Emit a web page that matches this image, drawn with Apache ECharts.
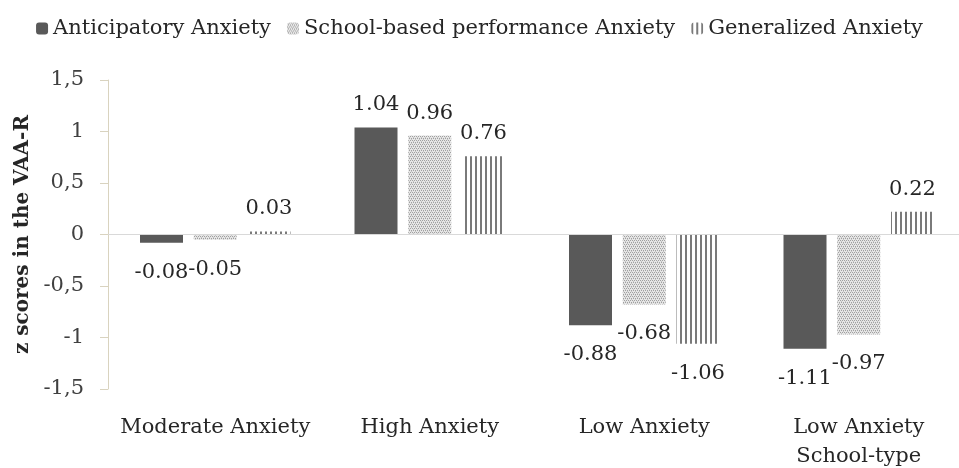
<!DOCTYPE html>
<html>
<head>
<meta charset="utf-8">
<script src="https://cdn.jsdelivr.net/npm/echarts@6/dist/echarts.min.js"></script>
<style>
  html, body { margin: 0; padding: 0; background: #fff; }
  #main { width: 959px; height: 468px; }
</style>
</head>
<body>
<div id="main"></div>
<script>
// data
var categories = ['Moderate Anxiety', 'High Anxiety', 'Low Anxiety', 'Low Anxiety\nSchool-type'];
var seriesNames = ['Anticipatory Anxiety', 'School-based performance Anxiety', 'Generalized Anxiety'];
var anticipatory = [-0.08, 1.04, -0.88, -1.11];
var schoolBased = [-0.05, 0.96, -0.68, -0.97];
var generalized = [0.03, 0.76, -1.06, 0.22];

var FONT = 'DejaVu Serif';
var FS = 21;

// small canvas tiles for the pattern fills
function dotPattern() {
  var c = document.createElement('canvas');
  c.width = 4; c.height = 4;
  var ctx = c.getContext('2d');
  ctx.fillStyle = '#e6e6e6';
  ctx.fillRect(0, 0, 4, 4);
  ctx.fillStyle = '#a0a0a0';
  ctx.fillRect(0, 0, 1, 1);
  ctx.fillRect(2, 0, 1, 1);
  ctx.fillRect(1, 2, 1, 1);
  ctx.fillRect(3, 2, 1, 1);
  ctx.fillStyle = '#c4c4c4';
  ctx.fillRect(1, 1, 1, 1);
  ctx.fillRect(3, 3, 1, 1);
  return c;
}
function stripePattern() {
  var c = document.createElement('canvas');
  c.width = 5; c.height = 4;
  var ctx = c.getContext('2d');
  ctx.fillStyle = '#ffffff';
  ctx.fillRect(0, 0, 5, 4);
  ctx.fillStyle = '#7a7a7a';
  ctx.fillRect(0, 0, 2, 4);
  return c;
}

var fills = [
  '#595959',
  { image: dotPattern(), repeat: 'repeat' },
  { image: stripePattern(), repeat: 'repeat' }
];

// labels sit above positive bars, below negative ones (a bit further out)
function toData(arr) {
  return arr.map(function (v) {
    return {
      value: v,
      label: v >= 0 ? { position: 'top', distance: 12 } : { position: 'bottom', distance: 19 }
    };
  });
}

function makeSeries(name, arr, idx) {
  return {
    name: name,
    type: 'bar',
    data: toData(arr),
    barWidth: 43,
    barGap: '25%',
    itemStyle: { color: fills[idx] },
    label: {
      show: true,
      fontFamily: FONT,
      fontSize: FS,
      color: '#262626',
      formatter: function (p) { return p.value.toFixed(2); }
    }
  };
}

var myChart = echarts.init(document.getElementById('main'));

var series = [
  makeSeries(seriesNames[0], anticipatory, 0),
  makeSeries(seriesNames[1], schoolBased, 1),
  makeSeries(seriesNames[2], generalized, 2)
];
// zero line
series[0].markLine = {
  silent: true,
  symbol: 'none',
  label: { show: false },
  lineStyle: { color: '#d9d9d9', width: 1, type: 'solid' },
  data: [{ yAxis: 0 }]
};

var option = {
  animation: false,
  textStyle: { fontFamily: FONT },
  legend: {
    top: 13,
    left: 'center',
    itemWidth: 12,
    itemHeight: 12,
    itemGap: 16,
    textStyle: { fontFamily: FONT, fontSize: FS, color: '#262626' },
    data: seriesNames
  },
  grid: { left: 108, right: -7, top: 80, bottom: 79, outerBoundsMode: 'none' },
  xAxis: {
    type: 'category',
    data: categories,
    axisLine: { show: false },
    axisTick: { show: false },
    axisLabel: {
      interval: 0,
      margin: 24,
      fontFamily: FONT,
      fontSize: FS,
      lineHeight: 29,
      color: '#262626'
    }
  },
  yAxis: {
    type: 'value',
    min: -1.5,
    max: 1.5,
    interval: 0.5,
    name: 'z scores in the VAA-R',
    nameLocation: 'middle',
    nameRotate: 90,
    nameGap: 70,
    nameTextStyle: { fontFamily: FONT, fontSize: 20, fontWeight: 'bold', color: '#262626' },
    axisLine: { show: true, lineStyle: { color: '#d9d3bf' } },
    axisTick: { show: true, inside: false, length: 8, lineStyle: { color: '#d9d3bf' } },
    splitLine: { show: false },
    axisLabel: {
      margin: 24,
      fontFamily: FONT,
      fontSize: FS,
      color: '#404040',
      formatter: function (v) { return String(v).replace('.', ','); }
    }
  },
  series: series
};

myChart.setOption(option);
</script>
</body>
</html>
